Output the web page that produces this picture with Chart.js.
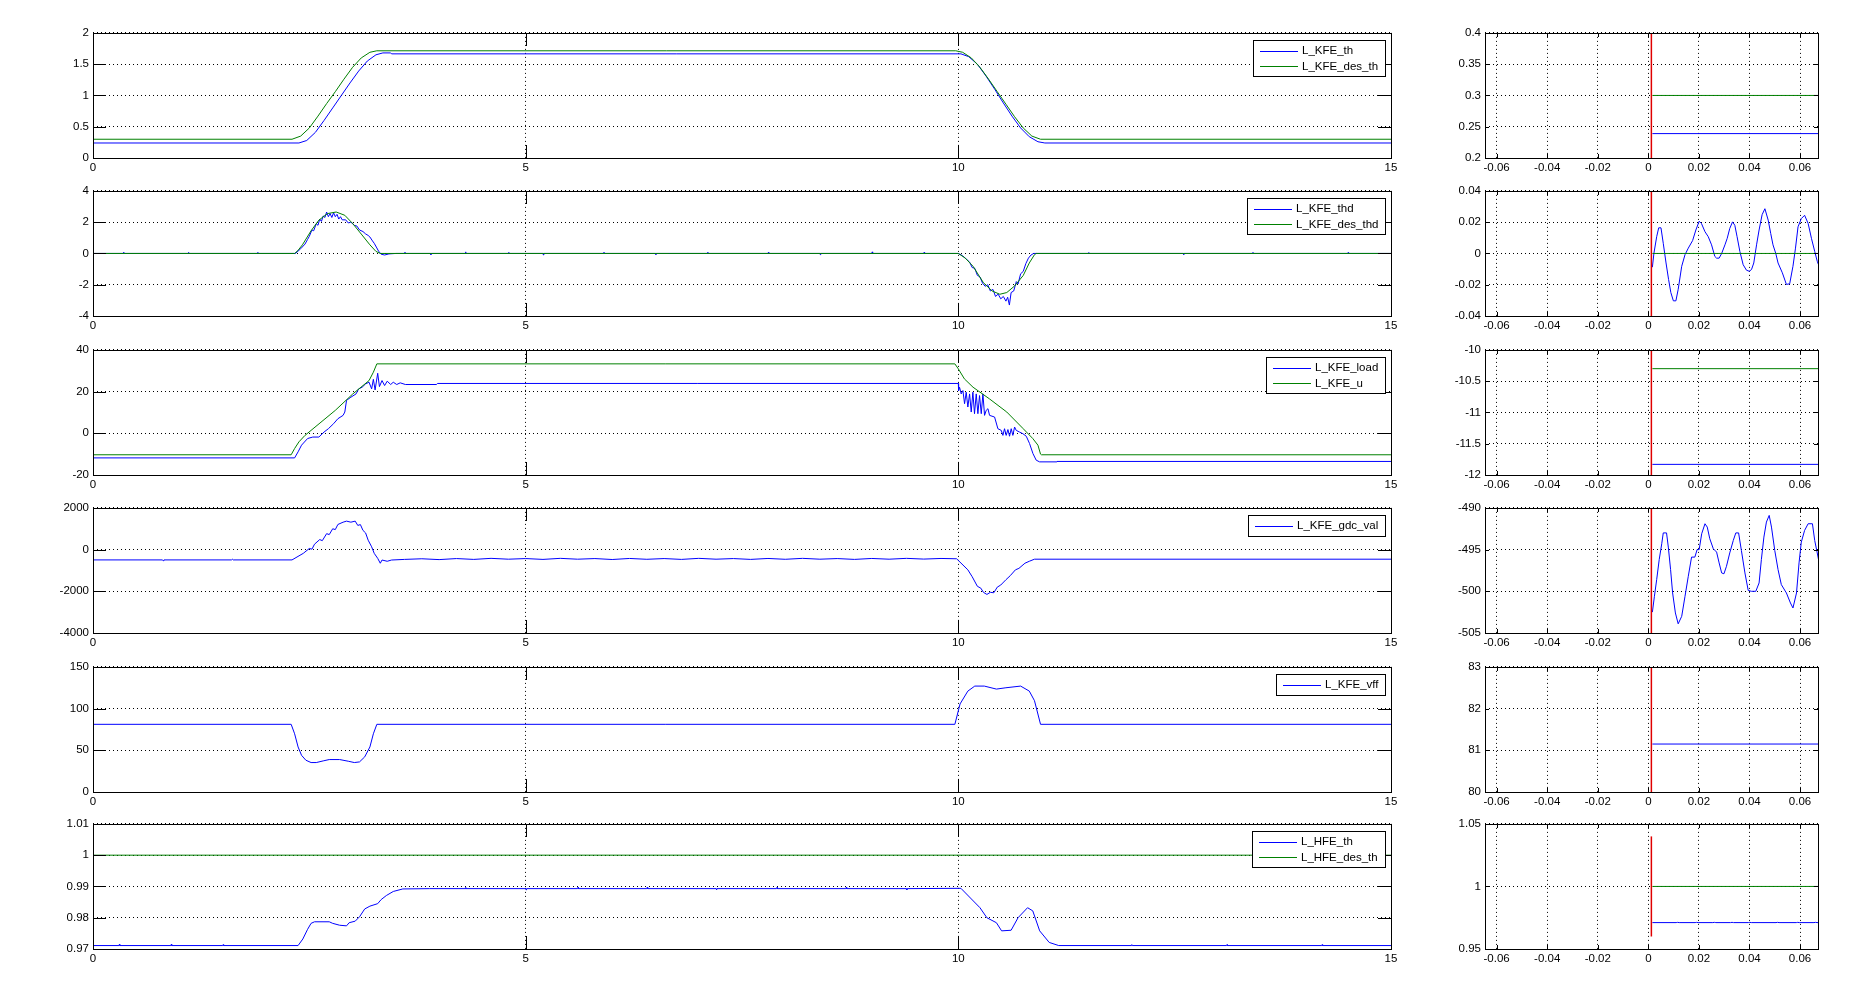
<!DOCTYPE html>
<html>
<head>
<meta charset="utf-8">
<script src="https://cdn.jsdelivr.net/npm/chart.js@4.4.1/dist/chart.umd.min.js"></script>
<style>
body{margin:0;background:#fff;width:1855px;height:1001px;overflow:hidden;position:relative}
canvas{position:absolute}
</style>
</head>
<body>
<script>
// ---- tick labels ----
var leftXTicks = [0, 5, 10, 15];
var rightXTicks = [-0.06, -0.04, -0.02, 0, 0.02, 0.04, 0.06];
var rightXRange = [-0.0646, 0.0671];

var yTicksL1 = [0, 0.5, 1, 1.5, 2];
var yTicksL2 = [-4, -2, 0, 2, 4];
var yTicksL3 = [-20, 0, 20, 40];
var yTicksL4 = [-4000, -2000, 0, 2000];
var yTicksL5 = [0, 50, 100, 150];
var yTicksL6 = [0.97, 0.98, 0.99, 1, 1.01];

var yTicksR1 = [0.2, 0.25, 0.3, 0.35, 0.4];
var yTicksR2 = [-0.04, -0.02, 0, 0.02, 0.04];
var yTicksR3 = [-12, -11.5, -11, -10.5, -10];
var yTicksR4 = [-505, -500, -495, -490];
var yTicksR5 = [80, 81, 82, 83];
var yTicksR6 = [0.95, 1, 1.05];

// ---- series over the whole run, [t, value] ----
var kfeTh = [[0,0.24],[2.38,0.24],[2.47,0.28],[2.57,0.41],[2.67,0.60],[2.77,0.80],[2.87,1.00],[2.97,1.20],[3.07,1.39],[3.17,1.55],[3.27,1.65],[3.35,1.68],[3.44,1.68],[3.45,1.665],
  [10.03,1.665],[10.12,1.62],[10.22,1.50],[10.32,1.31],[10.42,1.10],[10.52,0.88],[10.62,0.67],[10.72,0.48],[10.82,0.34],[10.92,0.26],[11.0,0.24],[15,0.24]];
var kfeDesTh = [[0,0.30],[2.30,0.30],[2.40,0.35],[2.50,0.48],[2.60,0.67],[2.70,0.87],[2.80,1.06],[2.90,1.26],[3.00,1.45],[3.10,1.60],[3.20,1.69],[3.28,1.714],
  [9.97,1.714],[10.05,1.69],[10.15,1.60],[10.25,1.45],[10.35,1.26],[10.45,1.06],[10.55,0.86],[10.65,0.66],[10.75,0.48],[10.85,0.35],[10.95,0.30],[15,0.30]];

var kfeThd = [[0,0],[0.35,0],[0.355,0.08],[0.36,0],[1.1,0],[1.105,0.07],[1.11,0],[1.9,0],[1.905,0.07],[1.91,0],[2.34,0],
  [2.40,0.3],[2.45,0.6],[2.48,0.9],[2.50,1.1],[2.53,1.5],[2.55,1.45],[2.58,1.9],[2.60,1.8],[2.62,2.2],[2.64,2.05],[2.66,2.4],[2.68,2.3],[2.70,2.65],[2.72,2.35],[2.74,2.55],[2.76,2.3],[2.78,2.6],[2.80,2.35],[2.82,2.5],[2.84,2.2],[2.86,2.35],[2.88,2.15],[2.92,2.15],[2.95,1.95],[2.98,2.0],[3.02,1.8],[3.05,1.75],[3.08,1.5],[3.12,1.4],[3.15,1.25],[3.18,1.15],[3.20,1.05],[3.23,0.8],[3.25,0.65],[3.28,0.35],[3.30,0.15],[3.33,-0.05],[3.37,-0.1],[3.42,-0.03],[3.5,0],
  [3.6,0],[3.605,0.08],[3.61,0],[3.9,0],[3.905,-0.08],[3.91,0],[4.3,0],[4.305,0.1],[4.31,0],[4.8,0],[4.805,0.07],[4.81,0],[5.2,0],[5.205,-0.1],[5.21,0],[5.9,0],[5.905,0.08],[5.91,0],[6.5,0],[6.505,-0.07],[6.51,0],[7.1,0],[7.105,0.08],[7.11,0],[7.8,0],[7.805,0.07],[7.81,0],[8.4,0],[8.405,-0.08],[8.41,0],[9.0,0],[9.005,0.1],[9.01,0],[9.6,0],[9.605,0.07],[9.61,0],[10.0,0],
  [10.05,-0.15],[10.10,-0.4],[10.13,-0.55],[10.16,-0.9],[10.19,-0.95],[10.22,-1.4],[10.25,-1.5],[10.28,-1.9],[10.31,-2.1],[10.34,-2.0],[10.37,-2.4],[10.40,-2.3],[10.43,-2.75],[10.46,-2.6],[10.49,-2.9],[10.52,-2.75],[10.55,-3.05],[10.57,-2.8],[10.59,-3.3],[10.61,-2.5],[10.64,-2.4],[10.67,-1.8],[10.69,-1.95],[10.72,-1.3],[10.75,-1.15],[10.78,-0.65],[10.81,-0.3],[10.84,-0.1],[10.87,0],
  [11.5,0],[11.505,0.06],[11.51,0],[12.6,0],[12.605,-0.07],[12.61,0],[13.4,0],[13.405,0.07],[13.41,0],[14.5,0],[14.505,0.06],[14.51,0],[15,0]];
var kfeDesThd = [[0,0],[2.33,0],[2.37,0.2],[2.42,0.55],[2.52,1.45],[2.61,2.13],[2.71,2.55],[2.81,2.65],[2.91,2.44],[3.00,1.92],[3.10,1.24],[3.20,0.55],[3.27,0.13],[3.32,0],
  [10.0,0],[10.08,-0.3],[10.17,-0.82],[10.29,-1.87],[10.39,-2.4],[10.48,-2.61],[10.56,-2.5],[10.65,-2.08],[10.75,-1.41],[10.82,-0.61],[10.88,-0.08],[10.90,0],[15,0]];

var kfeLoad = [[0,-11.8],[2.33,-11.8],[2.37,-8.9],[2.41,-5.7],[2.48,-2.5],[2.54,-1.8],[2.61,-1.8],[2.67,0.6],[2.72,2.2],[2.78,4.6],[2.83,7.0],[2.89,8.6],[2.91,10.2],[2.93,15.8],[2.98,17.3],[3.04,18.9],[3.07,21.3],[3.11,22.1],[3.15,23.7],[3.19,24.5],[3.22,21.3],[3.24,25.9],[3.26,20.8],[3.29,28.8],[3.31,22.4],[3.34,25.3],[3.37,22.9],[3.40,25.0],[3.44,23.4],[3.47,24.5],[3.51,23.4],[3.55,24.2],[3.61,23.4],[3.97,23.4],[3.98,23.9],
  [10.0,23.9],[10.003,20.5],[10.014,22.1],[10.033,18.9],[10.053,20.5],[10.072,14.2],[10.091,19.7],[10.110,12.6],[10.130,18.9],[10.149,10.2],[10.168,19.7],[10.187,9.4],[10.207,18.9],[10.226,9.4],[10.245,18.1],[10.265,9.4],[10.284,18.9],[10.303,8.6],[10.322,11.0],[10.342,11.8],[10.361,8.6],[10.419,7.8],[10.457,2.2],[10.496,1.4],[10.515,-1.0],[10.534,2.2],[10.553,-1.0],[10.573,1.8],[10.592,-1.4],[10.611,2.2],[10.630,-1.0],[10.650,3.0],[10.669,1.4],[10.707,0.6],[10.746,-0.2],[10.785,-1.4],[10.823,-4.9],[10.862,-9.7],[10.900,-12.9],[10.939,-13.7],[11.131,-13.7],[11.14,-13.5],[15,-13.5]];
var kfeU = [[0,-10.3],[2.29,-10.3],[2.33,-7.3],[2.38,-4.1],[2.45,-1.0],[2.80,11.0],[3.00,18.8],[3.19,25.3],[3.24,29.3],[3.28,33.3],
  [9.96,33.3],[10.0,30.9],[10.07,26.1],[10.17,22.1],[10.36,16.5],[10.56,10.2],[10.75,2.2],[10.86,-2.5],[10.92,-5.7],[10.95,-10.0],[10.96,-10.3],[15,-10.3]];

var kfeGdcVal = [[0,-495],[0.8,-495],[0.81,-530],[0.82,-495],[1.6,-495],[1.61,-460],[1.62,-495],[2.30,-495],[2.43,-180],[2.50,55],[2.53,20],[2.56,260],[2.62,480],[2.65,430],[2.70,765],[2.73,720],[2.77,1000],[2.80,960],[2.83,1205],[2.89,1315],[2.93,1365],[2.98,1315],[3.03,1365],[3.06,1160],[3.09,1200],[3.12,920],[3.15,800],[3.18,450],[3.22,135],[3.25,-180],[3.29,-420],[3.32,-655],[3.34,-500],[3.40,-560],[3.45,-500],
  [3.6,-470],[3.8,-440],[4.0,-480],[4.2,-430],[4.4,-470],[4.6,-420],[4.8,-460],[5.0,-430],[5.2,-470],[5.4,-420],[5.6,-460],[5.8,-430],[6.0,-475],[6.2,-425],[6.4,-465],[6.6,-430],[6.8,-470],[7.0,-420],[7.2,-460],[7.4,-430],[7.6,-470],[7.8,-425],[8.0,-465],[8.2,-420],[8.4,-460],[8.6,-430],[8.8,-470],[9.0,-425],[9.2,-460],[9.4,-420],[9.6,-455],[9.8,-425],[9.98,-440],
  [10.11,-970],[10.16,-1300],[10.22,-1760],[10.26,-1850],[10.29,-2050],[10.33,-2150],[10.37,-2050],[10.41,-2070],[10.45,-1800],[10.49,-1700],[10.55,-1445],[10.60,-1250],[10.66,-970],[10.70,-900],[10.77,-653],[10.82,-560],[10.88,-460],[15,-460]];

var kfeVff = [[0,81.15],[2.29,81.15],[2.33,69.8],[2.37,54],[2.41,44],[2.46,38.1],[2.52,35.3],[2.58,35.3],[2.66,37.3],[2.73,38.9],[2.85,38.9],[2.95,36.9],[3.02,35.3],[3.08,36.1],[3.14,42.1],[3.20,54],[3.24,69.8],[3.28,81.15],
  [9.96,81.15],[10.02,105.6],[10.11,121],[10.19,127],[10.30,127],[10.44,123.4],[10.55,125],[10.72,127],[10.82,121],[10.88,109.5],[10.95,81.15],[15,81.15]];

var hfeTh = [[0,0.9711],[0.3,0.9711],[0.305,0.9715],[0.31,0.9711],[0.9,0.9711],[0.905,0.9715],[0.91,0.9711],[1.5,0.9711],[1.505,0.9714],[1.51,0.9711],[2.37,0.9711],
  [2.425,0.9732],[2.48,0.9763],[2.52,0.9782],[2.56,0.9787],[2.73,0.9787],[2.77,0.9782],[2.85,0.9776],[2.93,0.9774],[2.96,0.9784],[3.03,0.9789],[3.08,0.9803],[3.14,0.9828],[3.20,0.9837],[3.29,0.9845],[3.33,0.9858],[3.39,0.9871],[3.47,0.9884],[3.58,0.9892],[3.89,0.9893],
  [4.3,0.9893],[4.305,0.9897],[4.31,0.9893],[5.0,0.9893],[5.005,0.9889],[5.01,0.9893],[5.6,0.9893],[5.605,0.9897],[5.61,0.9893],[6.4,0.9893],[6.405,0.9897],[6.41,0.9893],[7.2,0.9893],[7.205,0.9889],[7.21,0.9893],[7.9,0.9893],[7.905,0.9897],[7.91,0.9893],[8.7,0.9893],[8.705,0.9897],[8.71,0.9893],[9.4,0.9893],[9.405,0.9889],[9.41,0.9893],
  [10.03,0.9894],[10.14,0.9863],[10.25,0.9832],[10.33,0.980],[10.44,0.9784],[10.50,0.9758],[10.61,0.976],[10.69,0.980],[10.80,0.9832],[10.86,0.9822],[10.94,0.9758],[11.05,0.9721],[11.16,0.9711],
  [12.0,0.9711],[12.005,0.9714],[12.01,0.9711],[13.1,0.9711],[13.105,0.9714],[13.11,0.9711],[14.2,0.9711],[14.205,0.9714],[14.21,0.9711],[15,0.9711]];
var hfeDesTh = [[0,1.0],[15,1.0]];

// ---- same signals around the start, [t, value] ----
var kfeThZoom = [[0.0016,0.239],[0.07,0.239]];
var kfeDesThZoom = [[0.0016,0.3],[0.07,0.3]];
var kfeThdZoom = [[0.0016,-0.0088],[0.0022,0],[0.0033,0.0107],[0.0041,0.0164],[0.0050,0.0164],[0.0059,0.0065],[0.0070,-0.0061],[0.0080,-0.0166],[0.0089,-0.025],[0.0099,-0.0303],[0.0109,-0.0303],[0.0118,-0.023],[0.0132,-0.0082],[0.0145,-0.0008],[0.0158,0.0034],[0.0175,0.0082],[0.0188,0.015],[0.0201,0.0206],[0.021,0.0192],[0.0224,0.0139],[0.0237,0.0107],[0.025,0.0055],[0.0263,-0.0019],[0.027,-0.003],[0.028,-0.003],[0.029,0],[0.0303,0.0055],[0.0312,0.0097],[0.0322,0.016],[0.0333,0.0202],[0.0342,0.018],[0.0351,0.0107],[0.0362,0.0013],[0.0375,-0.0072],[0.0388,-0.0107],[0.0399,-0.0114],[0.0408,-0.0103],[0.0417,-0.0061],[0.0428,0.0055],[0.0438,0.015],[0.045,0.0248],[0.0461,0.0286],[0.0474,0.0213],[0.0484,0.0128],[0.0493,0.0055],[0.0504,0],[0.0513,-0.0061],[0.053,-0.0124],[0.0546,-0.0198],[0.0559,-0.0194],[0.0572,-0.0082],[0.0582,0.0034],[0.0592,0.017],[0.0605,0.0223],[0.0618,0.0244],[0.0632,0.0192],[0.0645,0.0097],[0.0658,0.0013],[0.0668,-0.005],[0.0675,-0.008]];
var kfeDesThdZoom = [[0.0016,0],[0.07,0]];
var kfeLoadZoom = [[0.0016,-11.83],[0.07,-11.83]];
var kfeUZoom = [[0.0016,-10.3],[0.07,-10.3]];
var kfeGdcValZoom = [[0.0016,-502.5],[0.0024,-500.6],[0.0033,-498.6],[0.0043,-496.2],[0.0053,-494.3],[0.0059,-493],[0.0072,-493],[0.0079,-494.7],[0.0088,-497.4],[0.0096,-500.2],[0.0107,-502.6],[0.0118,-503.9],[0.0132,-503],[0.0145,-500.6],[0.0158,-498.2],[0.0171,-495.9],[0.0184,-495.9],[0.0193,-495],[0.0201,-495],[0.0211,-493.1],[0.0224,-491.9],[0.0233,-492.3],[0.0243,-493.7],[0.0257,-494.9],[0.027,-495.3],[0.028,-496.6],[0.029,-497.8],[0.0299,-497.9],[0.0309,-497],[0.0322,-495.4],[0.0336,-493.9],[0.0346,-493],[0.0357,-493],[0.0368,-495.1],[0.0382,-497.8],[0.0395,-499.9],[0.0408,-500],[0.0425,-500],[0.0438,-499],[0.0447,-496.2],[0.0457,-493.5],[0.0467,-491.7],[0.0478,-490.9],[0.0487,-492.3],[0.05,-495.1],[0.0513,-497.4],[0.0526,-499.2],[0.0546,-500.2],[0.0562,-501.4],[0.0572,-502],[0.0586,-500.2],[0.0596,-496.6],[0.0605,-494.1],[0.0618,-492.7],[0.0632,-491.9],[0.0649,-491.9],[0.0658,-493.9],[0.0668,-495.4],[0.0675,-496.5]];
var kfeVffZoom = [[0.0016,81.15],[0.07,81.15]];
var hfeThZoom = [[0.0016,0.9711],[0.0110,0.9711],[0.0116,0.9713],[0.0122,0.9711],[0.0185,0.9711],[0.0191,0.9713],[0.0197,0.9711],[0.0255,0.9711],[0.0261,0.9713],[0.0267,0.9711],[0.0325,0.9711],[0.0331,0.9713],[0.0337,0.9711],[0.0395,0.9711],[0.0401,0.9713],[0.0407,0.9711],[0.0505,0.9711],[0.0511,0.9713],[0.0517,0.9711],[0.0585,0.9711],[0.0591,0.9713],[0.0597,0.9711],[0.0655,0.9711],[0.0661,0.9713],[0.0667,0.9711],[0.07,0.9711]];
var hfeDesThZoom = [[0.0016,1.0],[0.07,1.0]];

// red marker in the zoomed panels: time and vertical span per row
var markerT = 0.0012;
var markerSpans = [[0.2,0.4],[-0.04,0.04],[-12,-10],[-505,-490],[80,83],[0.96,1.04]];

// ---- layout ----
var FONT = '"Liberation Sans Narrow","Liberation Sans",Arial,sans-serif';
var FONT_SIZE = 11.5;
var BLUE = '#0000ff', GREEN = '#008000', RED = '#e00000';
var rowTops = [32, 190, 349, 507, 666, 823];
var rowH = 126;
var leftBox = {x: 93, w: 1298};
var rightBox = {x: 1485, w: 333};

var matlabAxes = {
  id: 'matlabAxes',
  afterDraw: function(chart, args, opts){
    var ctx = chart.ctx, a = chart.chartArea;
    var tl = opts.tickLen;
    var xs = chart.scales.x, ys = chart.scales.y;
    var l = Math.round(a.left), t = Math.round(a.top), r = Math.round(a.right), b = Math.round(a.bottom);
    ctx.save();
    ctx.strokeStyle = '#000';
    ctx.lineWidth = 1;
    ctx.beginPath();
    xs.ticks.forEach(function(tk){
      var px = Math.round(xs.getPixelForValue(tk.value)) + 0.5;
      ctx.moveTo(px, t); ctx.lineTo(px, t + tl);
      ctx.moveTo(px, b); ctx.lineTo(px, b - tl);
    });
    ys.ticks.forEach(function(tk){
      var py = Math.round(ys.getPixelForValue(tk.value)) + 0.5;
      ctx.moveTo(l, py); ctx.lineTo(l + tl, py);
      ctx.moveTo(r, py); ctx.lineTo(r - tl, py);
    });
    ctx.stroke();
    ctx.strokeRect(l + 0.5, t + 0.5, r - l, b - t);

    // legend box, top right inside the axes
    var items = chart.data.datasets.filter(function(d){ return d.label; });
    if (items.length) {
      ctx.font = FONT_SIZE + 'px ' + FONT;
      var w = 0;
      items.forEach(function(d){ w = Math.max(w, ctx.measureText(d.label).width); });
      var bw = Math.round(49 + w + 7), bh = Math.round(5 + items.length * 15.7);
      var bx = r - 6 - bw, by = t + 7;
      ctx.fillStyle = '#fff';
      ctx.fillRect(bx, by, bw, bh);
      ctx.strokeRect(bx + 0.5, by + 0.5, bw, bh);
      items.forEach(function(d, i){
        var cy = by + 10.7 + i * 15.7;
        ctx.strokeStyle = d.borderColor;
        ctx.beginPath();
        ctx.moveTo(bx + 7, Math.round(cy) + 0.5);
        ctx.lineTo(bx + 45, Math.round(cy) + 0.5);
        ctx.stroke();
        ctx.fillStyle = '#000';
        ctx.textBaseline = 'middle';
        ctx.textAlign = 'left';
        ctx.fillText(d.label, bx + 49, cy + 0.5);
      });
    }
    ctx.restore();
  }
};

function toXY(pts){
  return pts.map(function(p){ return {x: p[0], y: p[1]}; });
}

function line(label, pts, color, order, width){
  return {label: label, data: toXY(pts), borderColor: color, borderWidth: width || 1,
          pointRadius: 0, tension: 0, fill: false, order: order};
}

function makeChart(top, box, xTicks, xMin, xMax, yTicks, datasets, tickLen){
  var L = 70, T = 10, R = 20, B = 24;
  var c = document.createElement('canvas');
  c.width = box.w + L + R;
  c.height = rowH + T + B;
  c.style.left = (box.x - L) + 'px';
  c.style.top = (top - T) + 'px';
  document.body.appendChild(c);

  var tickFont = {family: FONT, size: FONT_SIZE};
  new Chart(c, {
    type: 'line',
    data: {datasets: datasets},
    options: {
      responsive: false,
      animation: false,
      devicePixelRatio: 1,
      layout: {padding: {left: 0, top: T, right: R, bottom: 0}},
      plugins: {legend: {display: false}, tooltip: {enabled: false}, matlabAxes: {tickLen: tickLen}},
      scales: {
        x: {
          type: 'linear', min: xMin, max: xMax,
          afterBuildTicks: function(s){ s.ticks = xTicks.map(function(v){ return {value: v}; }); },
          afterFit: function(s){ s.height = B; },
          ticks: {autoSkip: false, maxRotation: 0, padding: 3, color: '#000', font: tickFont,
                  callback: function(v){ return String(v); }},
          grid: {color: '#000', lineWidth: 1, drawTicks: false},
          border: {display: false, dash: [1, 3]}
        },
        y: {
          type: 'linear', min: yTicks[0], max: yTicks[yTicks.length - 1],
          afterBuildTicks: function(s){ s.ticks = yTicks.map(function(v){ return {value: v}; }); },
          afterFit: function(s){ s.width = L; },
          ticks: {padding: 4, color: '#000', font: tickFont,
                  callback: function(v){ return String(v); }},
          grid: {color: '#000', lineWidth: 1, drawTicks: false},
          border: {display: false, dash: [1, 3]}
        }
      }
    },
    plugins: [matlabAxes]
  });
}

var leftRows = [
  {y: yTicksL1, ds: [line('L_KFE_th', kfeTh, BLUE, 1), line('L_KFE_des_th', kfeDesTh, GREEN, 0)]},
  {y: yTicksL2, ds: [line('L_KFE_thd', kfeThd, BLUE, 1), line('L_KFE_des_thd', kfeDesThd, GREEN, 0)]},
  {y: yTicksL3, ds: [line('L_KFE_load', kfeLoad, BLUE, 1), line('L_KFE_u', kfeU, GREEN, 0)]},
  {y: yTicksL4, ds: [line('L_KFE_gdc_val', kfeGdcVal, BLUE, 1)]},
  {y: yTicksL5, ds: [line('L_KFE_vff', kfeVff, BLUE, 1)]},
  {y: yTicksL6, ds: [line('L_HFE_th', hfeTh, BLUE, 1), line('L_HFE_des_th', hfeDesTh, GREEN, 0)]}
];
var rightRows = [
  {y: yTicksR1, ds: [line('', kfeThZoom, BLUE, 1), line('', kfeDesThZoom, GREEN, 0)]},
  {y: yTicksR2, ds: [line('', kfeThdZoom, BLUE, 1), line('', kfeDesThdZoom, GREEN, 0)]},
  {y: yTicksR3, ds: [line('', kfeLoadZoom, BLUE, 1), line('', kfeUZoom, GREEN, 0)]},
  {y: yTicksR4, ds: [line('', kfeGdcValZoom, BLUE, 1)]},
  {y: yTicksR5, ds: [line('', kfeVffZoom, BLUE, 1)]},
  {y: yTicksR6, ds: [line('', hfeThZoom, BLUE, 1), line('', hfeDesThZoom, GREEN, 0)]}
];

for (var i = 0; i < 6; i++) {
  makeChart(rowTops[i], leftBox, leftXTicks, 0, 15, leftRows[i].y, leftRows[i].ds, 13);
  var marker = line('', [[markerT, markerSpans[i][0]], [markerT, markerSpans[i][1]]], RED, -1, 1.5);
  makeChart(rowTops[i], rightBox, rightXTicks, rightXRange[0], rightXRange[1], rightRows[i].y,
            rightRows[i].ds.concat([marker]), 4);
}
</script>
</body>
</html>
